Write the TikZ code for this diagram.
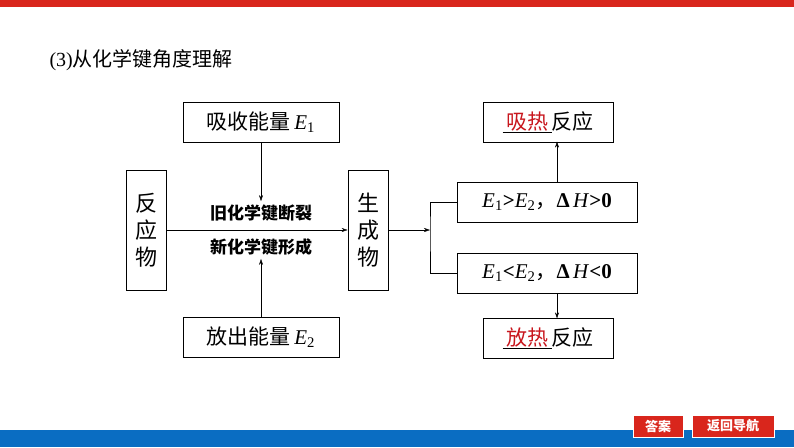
\documentclass[tikz,border=0pt]{standalone}
\usepackage{fontspec}
\setmainfont{Liberation Serif}
\newfontfamily\cjk{Noto Sans CJK SC}
\usetikzlibrary{arrows.meta}
\definecolor{barred}{HTML}{D9261C}
\definecolor{barblue}{HTML}{0A6DC2}
\definecolor{ansred}{HTML}{C8161D}
\newcommand{\en}[1]{\textit{E}\textsubscript{#1}}
\tikzset{
  blk/.style={draw,thick,minimum width=#1,minimum height=40pt,inner sep=0pt,font=\fontsize{21}{25}\selectfont},
  vbox/.style={draw,thick,minimum width=40pt,minimum height=120pt,inner sep=0pt,align=center,font=\fontsize{22}{27}\selectfont\cjk},
  btn/.style={fill=barred,draw=white,line width=1pt,text=white,minimum height=22pt,inner sep=2pt,font=\fontsize{13}{15}\selectfont\cjk\bfseries},
  arr/.style={-{Stealth[length=6pt,width=4pt]}}
}
\begin{document}
\begin{tikzpicture}[x=1pt,y=-1pt]
\useasboundingbox (0,0) rectangle (794,447);
\fill[barred] (0,0) rectangle (794,7);
\fill[barblue] (0,430) rectangle (794,447);
\node[anchor=west,font=\fontsize{20}{24}\selectfont] (title) at (46,60) {(3){\cjk 从化学键角度理解}};
% left part
\node[vbox] (react) at (146,230) {反\\应\\物};
\node[vbox] (prod) at (368,230) {生\\成\\物};
\node[blk=156pt] (absorb) at (261,122) {{\cjk 吸收能量}\,\en{1}};
\node[blk=156pt] (release) at (261,337) {{\cjk 放出能量}\,\en{2}};
\node[font=\fontsize{17}{20}\selectfont\cjk\bfseries] (old) at (261,213) {旧化学键断裂};
\node[font=\fontsize{17}{20}\selectfont\cjk\bfseries] (new) at (261,247) {新化学键形成};
\draw[arr] (react.east) -- (prod.west);
\draw[arr] (absorb.south) -- (absorb.south |- old.north);
\draw[arr] (release.north) -- (release.north |- new.south);
% right part
\coordinate (fork) at (430,230);
\node[blk=180pt] (endo) at (547,202) {\en{1}\textbf{>}\en{2}{\cjk ，}\textbf{Δ}\,\textit{H}\textbf{>0}};
\node[blk=180pt] (exo) at (547,273) {\en{1}\textbf{<}\en{2}{\cjk ，}\textbf{Δ}\,\textit{H}\textbf{<0}};
\node[blk=130pt] (heatin) at (548,122) {\cjk\underline{\,\textcolor{ansred}{吸热}\,}反应};
\node[blk=130pt] (heatout) at (548,338) {\cjk\underline{\,\textcolor{ansred}{放热}\,}反应};
\draw[arr] (prod.east) -- (fork);
\draw[thick] (endo.west) -| (fork) |- (exo.west);
\draw[arr] (endo.north -| heatin.south) ++(9,0) -- ++(0,-40);
\draw[arr] (exo.south -| heatout.south) ++(9,0) -- ++(0,25);
% buttons
\node[btn,minimum width=50pt] (answer) at (658,426) {答案};
\node[btn,minimum width=82pt] (back) at (733,426) {返回导航};
\end{tikzpicture}
\end{document}
